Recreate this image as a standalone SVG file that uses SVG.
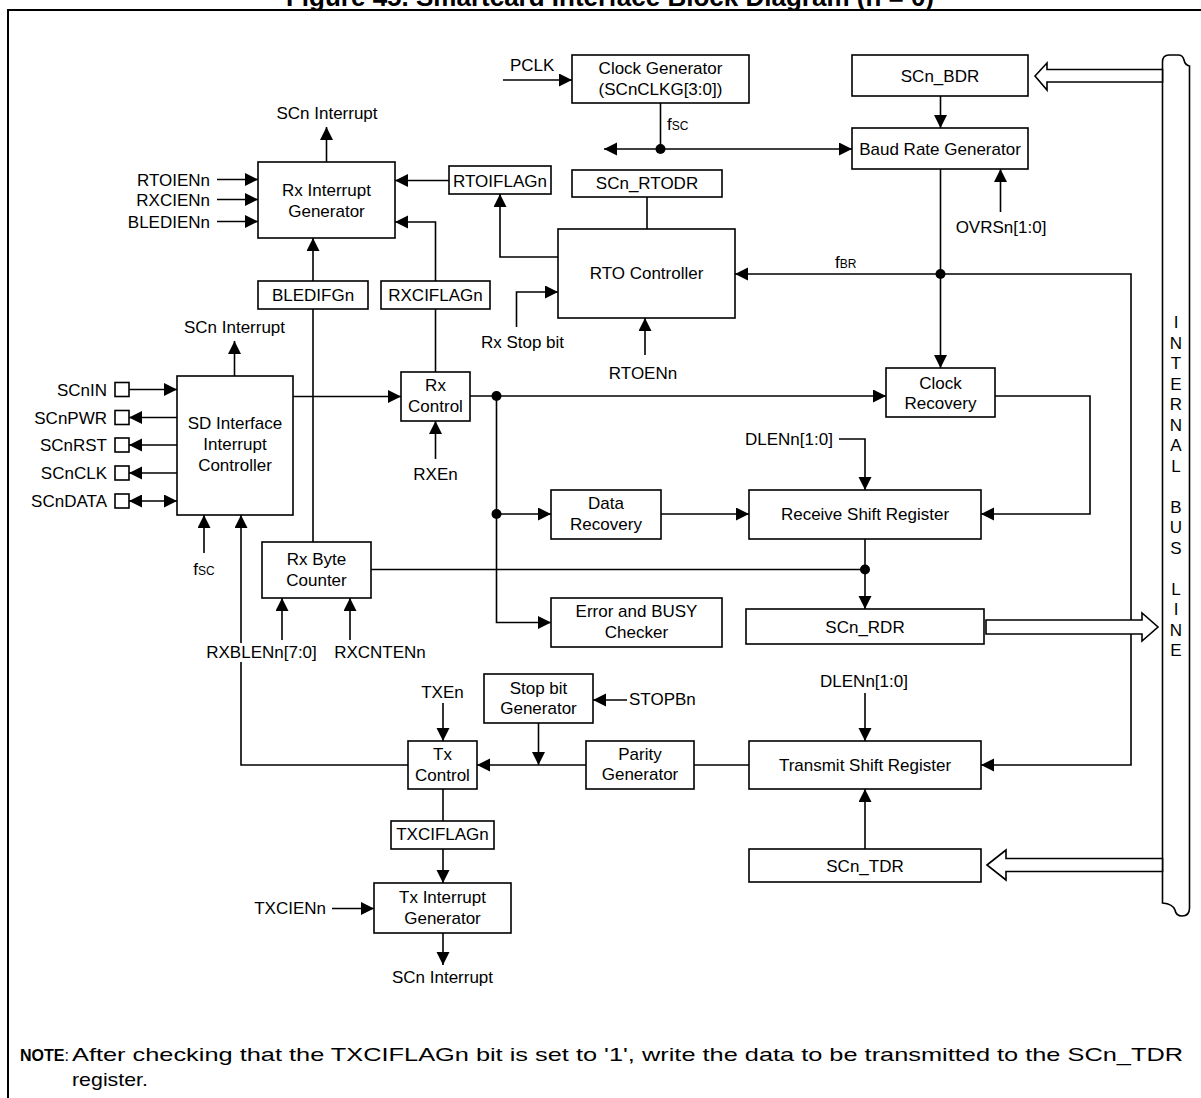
<svg xmlns="http://www.w3.org/2000/svg" width="1201" height="1098" viewBox="0 0 1201 1098">
<style>
text{font-family:"Liberation Sans",Arial,sans-serif;font-size:17px;fill:#000}
.c{text-anchor:middle}
.r{text-anchor:end}
.bx{fill:#fff;stroke:#000;stroke-width:1.6}
.ln{fill:none;stroke:#000;stroke-width:1.6}
.a{marker-end:url(#ah)}
.dot{fill:#000}
.ho{fill:#fff;stroke:#000;stroke-width:1.6;stroke-linejoin:miter}
</style>
<defs>
<marker id="ah" markerUnits="userSpaceOnUse" markerWidth="14" markerHeight="14" refX="13" refY="6.5" orient="auto">
<path d="M0,0 L13,6.5 L0,13 z" fill="#000"/>
</marker>
<marker id="as" markerUnits="userSpaceOnUse" markerWidth="14" markerHeight="14" refX="0" refY="6.5" orient="auto">
<path d="M13,0 L0,6.5 L13,13 z" fill="#000"/>
</marker>
</defs>
<rect x="0" y="0" width="1201" height="1098" fill="#fff"/>
<text x="610" y="6" class="c" style="font-size:26px;font-weight:bold">Figure 45. Smartcard Interface Block Diagram (n = 0)</text>
<path class="ln" d="M8,1098 L8,10 L1201,10" style="stroke-width:2"/>

<g id="bus">
<path d="M1162.5,903 L1162.5,62 Q1162.5,55 1169,55 L1178,55 Q1183,55 1184,60 Q1185,65 1189.5,66 L1189.5,908 Q1189.5,916 1182,916 Q1176,916 1175,910 Q1173,904 1162.5,903 Z" class="bx"/>
<g class="c">
<text x="1176" y="328">I</text><text x="1176" y="348.5">N</text><text x="1176" y="369">T</text><text x="1176" y="389.5">E</text><text x="1176" y="410">R</text><text x="1176" y="430.5">N</text><text x="1176" y="451">A</text><text x="1176" y="471.5">L</text>
<text x="1176" y="512.5">B</text><text x="1176" y="533">U</text><text x="1176" y="553.5">S</text>
<text x="1176" y="594.5">L</text><text x="1176" y="615">I</text><text x="1176" y="635.5">N</text><text x="1176" y="656">E</text>
</g>
</g>

<g id="connectors">
<line class="ln a" x1="503" y1="80" x2="572" y2="80"/>
<line class="ln" x1="660.5" y1="103" x2="660.5" y2="149"/>
<line class="ln a" x1="660.5" y1="149" x2="604" y2="149"/>
<line class="ln a" x1="660.5" y1="149" x2="852" y2="149"/>
<circle class="dot" cx="660.5" cy="149" r="5"/>
<line class="ln a" x1="940.5" y1="96" x2="940.5" y2="128"/>
<line class="ln a" x1="1000.5" y1="212" x2="1000.5" y2="169"/>
<line class="ln a" x1="940.5" y1="169" x2="940.5" y2="368"/>
<circle class="dot" cx="940.5" cy="274" r="5"/>
<line class="ln a" x1="940.5" y1="274" x2="735" y2="274"/>
<path class="ln a" d="M940.5,274 L1131,274 L1131,765 L981,765"/>
<path class="ln a" d="M995,396 L1090,396 L1090,514 L981,514"/>
<polyline class="ln" points="981,507 968,514 981,521"/>
<polyline class="ln" points="981,758 968,765 981,772"/>
<line class="ln" x1="647" y1="197" x2="647" y2="229"/>
<path class="ln a" d="M558,257 L500,257 L500,194"/>
<line class="ln a" x1="449" y1="180.5" x2="395" y2="180.5"/>
<path class="ln a" d="M435.5,281 L435.5,222 L395,222"/>
<line class="ln" x1="435.5" y1="309" x2="435.5" y2="372"/>
<path class="ln a" d="M516.5,327 L516.5,292 L558,292"/>
<line class="ln a" x1="645" y1="355" x2="645" y2="318"/>
<line class="ln a" x1="326.5" y1="162" x2="326.5" y2="127"/>
<line class="ln a" x1="217" y1="179.5" x2="258" y2="179.5"/>
<line class="ln a" x1="217" y1="199.5" x2="258" y2="199.5"/>
<line class="ln a" x1="217" y1="221.5" x2="258" y2="221.5"/>
<line class="ln a" x1="313" y1="281" x2="313" y2="238"/>
<line class="ln" x1="313" y1="309" x2="313" y2="542"/>
<line class="ln a" x1="234.5" y1="376" x2="234.5" y2="341"/>
<line class="ln a" x1="129" y1="389.5" x2="177" y2="389.5"/>
<line class="ln a" x1="177" y1="417.5" x2="129" y2="417.5"/>
<line class="ln a" x1="177" y1="445" x2="129" y2="445"/>
<line class="ln a" x1="177" y1="473" x2="129" y2="473"/>
<line class="ln a" x1="129" y1="501" x2="177" y2="501" style="marker-start:url(#as)"/>
<line class="ln a" x1="293" y1="396.5" x2="401" y2="396.5"/>
<line class="ln a" x1="204" y1="553" x2="204" y2="515"/>
<line class="ln a" x1="241" y1="643" x2="241" y2="515"/>
<path class="ln" d="M241,662 L241,765 L408,765"/>
<line class="ln a" x1="470" y1="396" x2="886" y2="396"/>
<circle class="dot" cx="496.5" cy="396" r="5"/>
<path class="ln a" d="M496.5,396 L496.5,622.5 L551,622.5"/>
<circle class="dot" cx="496.5" cy="514" r="5"/>
<line class="ln a" x1="496.5" y1="514" x2="551" y2="514"/>
<line class="ln a" x1="435.5" y1="459" x2="435.5" y2="421"/>
<line class="ln a" x1="661" y1="514" x2="749" y2="514"/>
<path class="ln a" d="M839,439 L865,439 L865,490"/>
<line class="ln a" x1="865" y1="539" x2="865" y2="609"/>
<line class="ln" x1="371" y1="569.5" x2="865" y2="569.5"/>
<circle class="dot" cx="865" cy="569.5" r="5"/>
<line class="ln a" x1="282" y1="640" x2="282" y2="598"/>
<line class="ln a" x1="350" y1="640" x2="350" y2="598"/>
<line class="ln a" x1="865" y1="693" x2="865" y2="741"/>
<line class="ln a" x1="865" y1="849" x2="865" y2="789"/>
<line class="ln" x1="749" y1="765" x2="694" y2="765"/>
<line class="ln a" x1="586" y1="765" x2="477" y2="765"/>
<line class="ln a" x1="538.5" y1="723" x2="538.5" y2="765"/>
<line class="ln a" x1="627" y1="700" x2="593" y2="700"/>
<line class="ln a" x1="443" y1="703" x2="443" y2="741"/>
<line class="ln" x1="443" y1="789" x2="443" y2="821"/>
<line class="ln a" x1="443" y1="849" x2="443" y2="883"/>
<line class="ln a" x1="332" y1="908.5" x2="374" y2="908.5"/>
<line class="ln a" x1="443" y1="933" x2="443" y2="965"/>
<polygon class="ho" points="1035,76 1047,63 1047,69.5 1162.5,69.5 1162.5,82 1047,82 1047,90"/>
<polygon class="ho" points="986,620 1142,620 1142,613 1158,627 1142,641 1142,634 986,634"/>
<polygon class="ho" points="987,865 1006,850 1006,858.5 1162.5,858.5 1162.5,871.5 1006,871.5 1006,880"/>
</g>

<g id="labels">
<text x="510" y="71">PCLK</text>
<text x="667" y="130">f<tspan style="font-size:12px">SC</tspan></text>
<text x="1001" y="233" class="c">OVRSn[1:0]</text>
<text x="835" y="268">f<tspan style="font-size:12px">BR</tspan></text>
<text x="522.5" y="348" class="c">Rx Stop bit</text>
<text x="643" y="379" class="c">RTOENn</text>
<text x="327" y="119" class="c">SCn Interrupt</text>
<text x="210" y="186" class="r">RTOIENn</text>
<text x="210" y="206" class="r">RXCIENn</text>
<text x="210" y="228" class="r">BLEDIENn</text>
<text x="234.5" y="332.5" class="c">SCn Interrupt</text>
<text x="107" y="395.5" class="r">SCnIN</text>
<text x="107" y="423.5" class="r">SCnPWR</text>
<text x="107" y="451" class="r">SCnRST</text>
<text x="107" y="479" class="r">SCnCLK</text>
<text x="107" y="507" class="r">SCnDATA</text>
<text x="204" y="575" class="c">f<tspan style="font-size:12px">SC</tspan></text>
<text x="435.5" y="480" class="c">RXEn</text>
<text x="745" y="445">DLENn[1:0]</text>
<text x="261.5" y="658" class="c">RXBLENn[7:0]</text>
<text x="380" y="658" class="c">RXCNTENn</text>
<text x="864" y="687" class="c">DLENn[1:0]</text>
<text x="629" y="705">STOPBn</text>
<text x="442.5" y="698" class="c">TXEn</text>
<text x="326" y="913.5" class="r">TXCIENn</text>
<text x="442.5" y="983" class="c">SCn Interrupt</text>
</g>

<g id="pins">
<rect class="bx" x="115" y="382.5" width="14" height="14"/>
<rect class="bx" x="115" y="410.5" width="14" height="14"/>
<rect class="bx" x="115" y="438" width="14" height="14"/>
<rect class="bx" x="115" y="466" width="14" height="14"/>
<rect class="bx" x="115" y="494" width="14" height="14"/>
</g>

<g id="clkgen"><rect class="bx" x="572" y="55" width="177" height="48"/><text x="660.5" y="74" class="c">Clock Generator</text><text x="660.5" y="95" class="c">(SCnCLKG[3:0])</text></g>
<g id="scn_bdr"><rect class="bx" x="852" y="55" width="176" height="41"/><text x="940" y="82" class="c">SCn_BDR</text></g>
<g id="brg"><rect class="bx" x="852" y="128" width="176" height="41"/><text x="940" y="154.5" class="c">Baud Rate Generator</text></g>
<g id="rxint"><rect class="bx" x="258" y="162" width="137" height="76"/><text x="326.5" y="196" class="c">Rx Interrupt</text><text x="326.5" y="217" class="c">Generator</text></g>
<g id="rtoiflag"><rect class="bx" x="449" y="166" width="102" height="28"/><text x="500" y="186.5" class="c">RTOIFLAGn</text></g>
<g id="rtodr"><rect class="bx" x="572" y="170" width="150" height="27"/><text x="647" y="189" class="c">SCn_RTODR</text></g>
<g id="rto"><rect class="bx" x="558" y="229" width="177" height="89"/><text x="646.5" y="279" class="c">RTO Controller</text></g>
<g id="bledifg"><rect class="bx" x="258" y="281" width="110" height="28"/><text x="313" y="301" class="c">BLEDIFGn</text></g>
<g id="rxciflag"><rect class="bx" x="381" y="281" width="109" height="28"/><text x="435.5" y="301" class="c">RXCIFLAGn</text></g>
<g id="sdic"><rect class="bx" x="177" y="376" width="116" height="139"/><text x="235" y="429" class="c">SD Interface</text><text x="235" y="450" class="c">Interrupt</text><text x="235" y="471" class="c">Controller</text></g>
<g id="rxctl"><rect class="bx" x="401" y="372" width="69" height="49"/><text x="435.5" y="391" class="c">Rx</text><text x="435.5" y="412" class="c">Control</text></g>
<g id="clkrec"><rect class="bx" x="886" y="368" width="109" height="49"/><text x="940.5" y="388.5" class="c">Clock</text><text x="940.5" y="409" class="c">Recovery</text></g>
<g id="rsr"><rect class="bx" x="749" y="490" width="232" height="49"/><text x="865" y="520" class="c">Receive Shift Register</text></g>
<g id="datarec"><rect class="bx" x="551" y="490" width="110" height="49"/><text x="606" y="508.5" class="c">Data</text><text x="606" y="529.5" class="c">Recovery</text></g>
<g id="rxbc"><rect class="bx" x="262" y="542" width="109" height="56"/><text x="316.5" y="565" class="c">Rx Byte</text><text x="316.5" y="586" class="c">Counter</text></g>
<g id="errbusy"><rect class="bx" x="551" y="598" width="171" height="49"/><text x="636.5" y="617" class="c">Error and BUSY</text><text x="636.5" y="638" class="c">Checker</text></g>
<g id="rdr"><rect class="bx" x="746" y="609" width="238" height="35"/><text x="865" y="633" class="c">SCn_RDR</text></g>
<g id="stopgen"><rect class="bx" x="484" y="674" width="109" height="49"/><text x="538.5" y="693.5" class="c">Stop bit</text><text x="538.5" y="714" class="c">Generator</text></g>
<g id="txctl"><rect class="bx" x="408" y="741" width="69" height="48"/><text x="442.5" y="760" class="c">Tx</text><text x="442.5" y="781" class="c">Control</text></g>
<g id="parity"><rect class="bx" x="586" y="741" width="108" height="48"/><text x="640" y="759.5" class="c">Parity</text><text x="640" y="780" class="c">Generator</text></g>
<g id="tsr"><rect class="bx" x="749" y="741" width="232" height="48"/><text x="865" y="771" class="c">Transmit Shift Register</text></g>
<g id="txciflag"><rect class="bx" x="391" y="821" width="103" height="28"/><text x="442.5" y="840" class="c">TXCIFLAGn</text></g>
<g id="tdr"><rect class="bx" x="749" y="849" width="232" height="33"/><text x="865" y="872" class="c">SCn_TDR</text></g>
<g id="txint"><rect class="bx" x="374" y="883" width="137" height="50"/><text x="442.5" y="903" class="c">Tx Interrupt</text><text x="442.5" y="923.5" class="c">Generator</text></g>

<g id="note">
<text x="20" y="1061" style="font-size:16px"><tspan style="font-weight:bold">NOTE</tspan>:</text>
<text x="72" y="1061" style="font-size:19px" textLength="1111" lengthAdjust="spacingAndGlyphs">After checking that the TXCIFLAGn bit is set to '1', write the data to be transmitted to the SCn_TDR</text>
<text x="72" y="1086" style="font-size:19px" textLength="76" lengthAdjust="spacingAndGlyphs">register.</text>
</g>
</svg>
